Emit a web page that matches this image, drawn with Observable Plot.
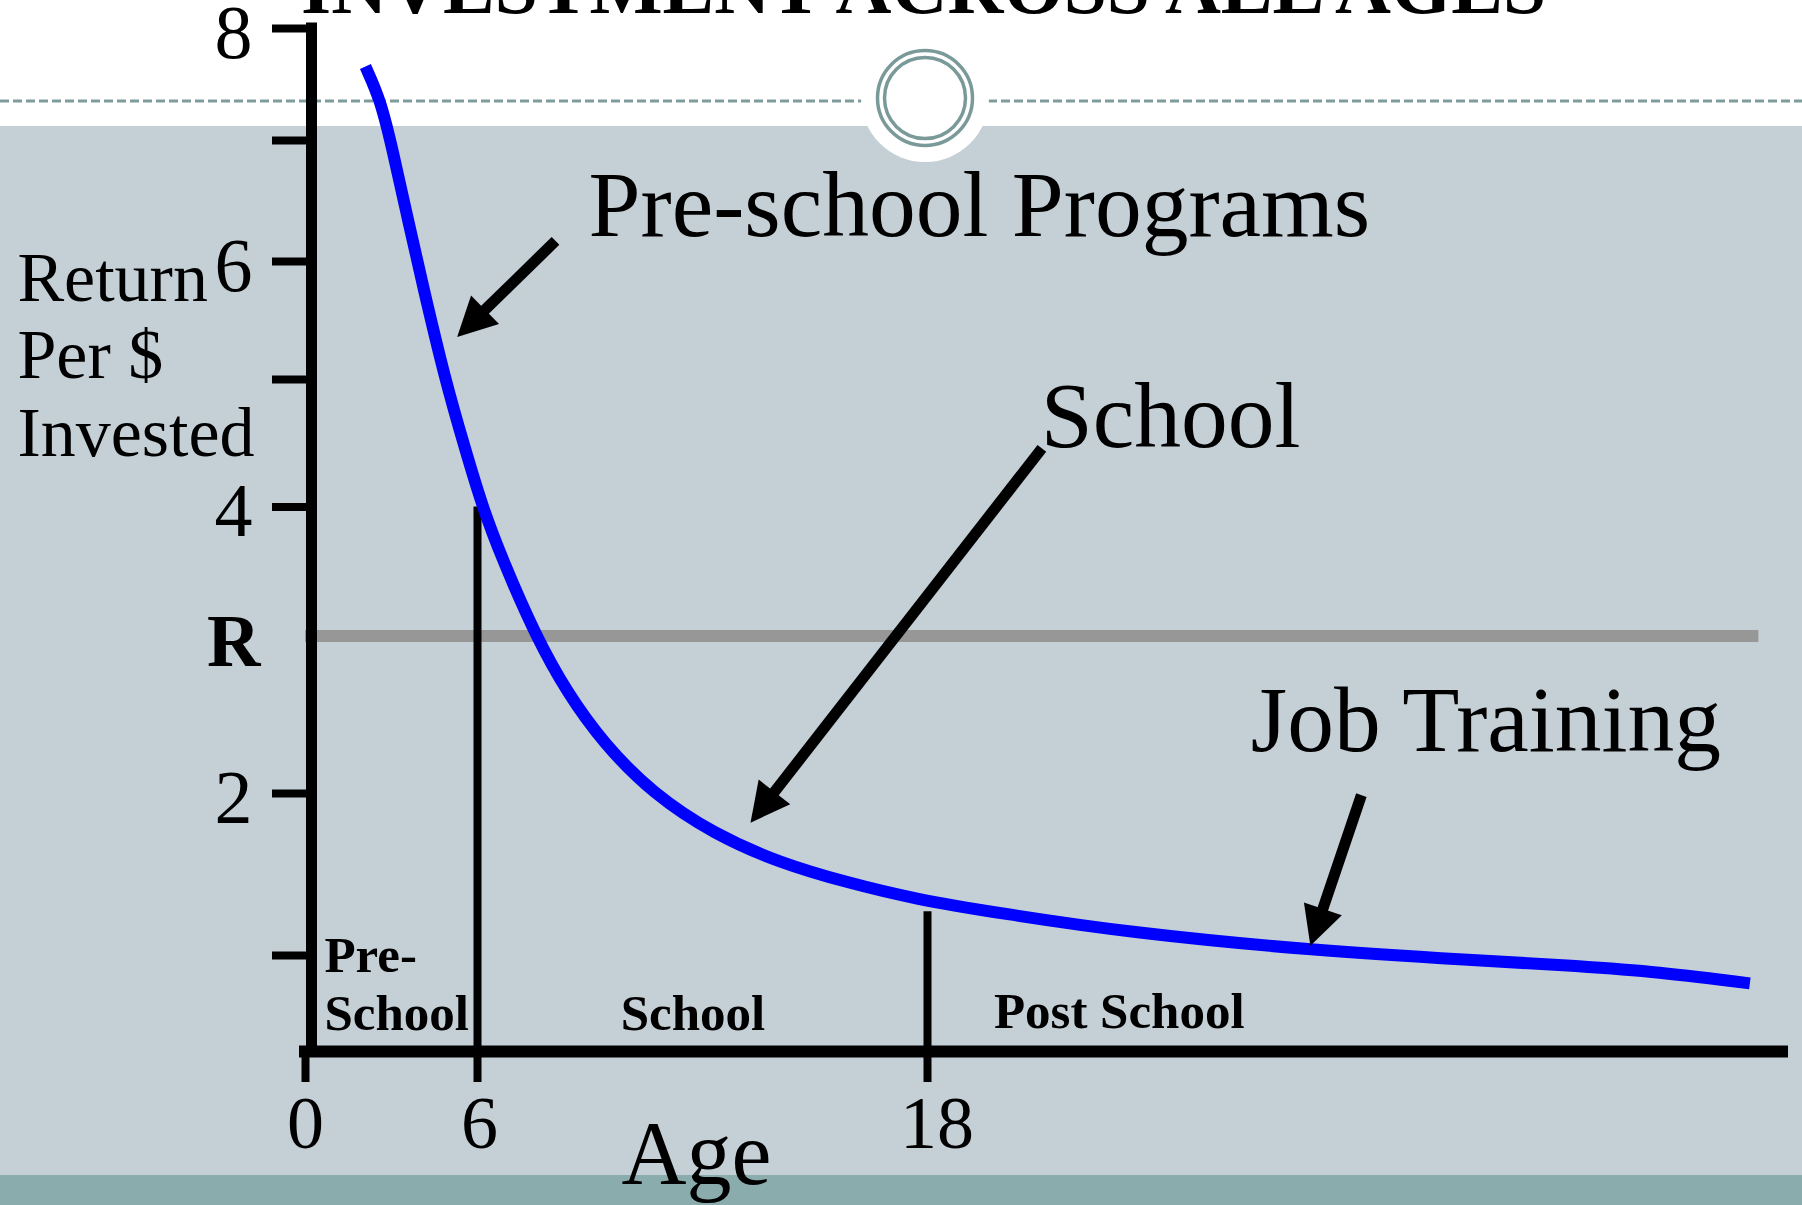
<!DOCTYPE html>
<html>
<head>
<meta charset="utf-8">
<script src="https://cdn.jsdelivr.net/npm/d3@7"></script>
<script src="https://cdn.jsdelivr.net/npm/@observablehq/plot@0.6"></script>
<style>
  html, body { margin: 0; padding: 0; background: #ffffff; }
  #wrap { position: relative; width: 1802px; height: 1205px; overflow: hidden; background: #c5d0d6; }
  #bg, #chart { position: absolute; left: 0; top: 0; }
  #chart svg { overflow: visible; }
</style>
</head>
<body>
<div id="wrap">
  <svg id="bg" width="1802" height="1205">
    <rect x="0" y="0" width="1802" height="126" fill="#ffffff"/>
    <line x1="0" x2="1802" y1="101" y2="101" stroke="#7f9c9c" stroke-width="3" stroke-dasharray="9 4"/>
    <circle cx="925" cy="98" r="64" fill="#ffffff"/>
    <circle cx="925" cy="98" r="47.5" fill="none" stroke="#7a9999" stroke-width="3.5"/>
    <circle cx="925" cy="98" r="40.5" fill="none" stroke="#7a9999" stroke-width="3.5"/>
    <rect x="0" y="1175" width="1802" height="30" fill="#8aacac"/>
    <text x="301" y="13" font-family="Liberation Serif" font-weight="bold" font-size="76" textLength="1245" lengthAdjust="spacingAndGlyphs">INVESTMENT ACROSS ALL AGES</text>
  </svg>
  <div id="chart"></div>
</div>
<script>
// ---- data ----
const ages    = [2.09, 2.62, 3.04, 3.56, 4.08, 4.88, 5.55, 6.13, 6.67, 7.55, 8.40, 9.36, 10.67, 12.30, 14.08, 15.87, 17.63, 19.95, 23.42, 28.33, 32.62, 34.94, 37.24, 39.93];
const returns = [7.66, 7.36, 6.92, 6.36, 5.81, 4.99, 4.47, 4.00, 3.63, 3.10, 2.70, 2.35, 2.00, 1.75, 1.57, 1.45, 1.35, 1.26, 1.14, 1.03, 0.95, 0.90, 0.84, 0.71];

const R = 3.1;                 // opportunity cost of funds
const rLineEnd = 40.17;

const yTickValues  = [1, 2, 4, 5, 6, 7, 8];
const yLabelValues = [8, 6, 4, 2];
const xTickValues  = [0, 6, 18];
const xTickLabelX  = [0, 6.05, 18.25];
const xAxisEnd = 40.8;

const stageBoundaries = [6, 18];
const stageTops       = [4.0, 1.27];
const stageNames  = ["Pre-\nSchool", "School", "Post School"];
const stageLabelX = [0.66, 9.82, 19.77];
const stageLabelY = [0.22, 0.22, 0.24];

const programNames  = ["Pre-school Programs", "School", "Job Training"];
const programLabelX = [8.96, 21.02, 26.62];
const programLabelY = [6.21, 4.47, 2.30];
const arrowX1 = [8.08, 21.05, 29.57];
const arrowY1 = [6.17, 4.46, 1.99];
const arrowX2 = [5.29, 13.28, 28.21];
const arrowY2 = [5.36, 1.82, 1.06];

const yAxisTitle = "Return\nPer $\nInvested";
const yAxisTitleX = -10.05, yAxisTitleY = 4.40;
const yLabelX = -1.85, rLabelX = -1.57;
const xLabelY = -1.01;
const xAxisTitle = "Age";
const xAxisTitleX = 11.84, xAxisTitleY = -1.375;

// ---- hand-drawn (piecewise) axes: warp data before the linear scales ----
const xDomain = [0, 6, 41];
const xRange  = [305, 477, 1789.5];
const yDomain = [0, 1, 2, 4, 5, 6, 7, 8];
const yRange  = [1051, 955, 793, 506.5, 379, 261, 140, 28];
const xs = d3.scaleLinear().domain(xDomain).range(xRange);
const ys = d3.scaleLinear().domain(yDomain).range(yRange);
const xEnds = [xRange[0], xRange[xRange.length - 1]];
const yEnds = [yRange[0], yRange[yRange.length - 1]];

const curve = ages.map((a, i) => ({age: a, ret: returns[i]}));
const stages = stageBoundaries.map((b, i) => ({age: b, top: stageTops[i]}));
const stageLabels = stageNames.map((n, i) => ({name: n, x: stageLabelX[i], y: stageLabelY[i]}));
const programLabels = programNames.map((n, i) => ({name: n, x: programLabelX[i], y: programLabelY[i]}));
const xTickLabels = xTickValues.map((v, i) => ({v, x: xTickLabelX[i]}));

const arrows = programNames.map((n, i) => {
  const dx = xs(arrowX2[i]) - xs(arrowX1[i]);
  const dy = ys(arrowY2[i]) - ys(arrowY1[i]);
  return {x1: arrowX1[i], y1: arrowY1[i], x2: arrowX2[i], y2: arrowY2[i],
          angle: Math.atan2(dx, -dy) * 180 / Math.PI};
});

const headSymbol = {
  draw(ctx) { ctx.moveTo(0, 0); ctx.lineTo(-20, 39); ctx.lineTo(20, 39); ctx.closePath(); }
};

const font = "Liberation Serif";

const plot = Plot.plot({
  width: 1802,
  height: 1205,
  marginLeft: 311,
  marginBottom: 154,
  marginTop: 0,
  marginRight: 0,
  style: {background: "transparent", fontFamily: font, color: "#000", overflow: "visible"},
  x: {transform: xs, domain: xEnds, range: xEnds, label: null},
  y: {transform: ys, domain: yEnds, range: yEnds, label: null},
  marks: [
    Plot.ruleY([R], {x1: 0, x2: rLineEnd, stroke: "#979797", strokeWidth: 12}),
    Plot.ruleX(stages, {x: "age", y1: 0, y2: "top", stroke: "#000", strokeWidth: 8}),
    Plot.axisX(xTickValues, {anchor: "bottom", tickSize: 31, strokeWidth: 8, tickFormat: () => "", label: null}),
    Plot.axisY(yTickValues, {anchor: "left", tickSize: 39, strokeWidth: 8, tickFormat: () => "", label: null}),
    Plot.line(curve, {x: "age", y: "ret", stroke: "#0000ff", strokeWidth: 12, curve: "basis", strokeLinecap: "butt"}),
    Plot.ruleX([0], {y1: 0, y2: 8, dx: 6, stroke: "#000", strokeWidth: 11, strokeLinecap: "square"}),
    Plot.ruleY([0], {x1: 0, x2: xAxisEnd, stroke: "#000", strokeWidth: 12, strokeLinecap: "square"}),
    Plot.arrow(arrows, {x1: "x1", y1: "y1", x2: "x2", y2: "y2", headLength: 0, insetEnd: 25,
                        stroke: "#000", strokeWidth: 11, strokeLinecap: "butt"}),
    Plot.dot(arrows, {x: "x2", y: "y2", symbol: headSymbol, r: 10, rotate: "angle", fill: "#000", stroke: "none"}),
    Plot.text(programLabels, {x: "x", y: "y", text: "name", textAnchor: "start", lineAnchor: "bottom",
                              fontFamily: font, fontSize: 93.5, fill: "#000"}),
    Plot.text(stageLabels, {x: "x", y: "y", text: "name", textAnchor: "start", lineAnchor: "bottom",
                            fontFamily: font, fontWeight: "bold", fontSize: 51, lineHeight: 1.14, fill: "#000"}),
    Plot.text([yAxisTitle], {x: yAxisTitleX, y: yAxisTitleY, text: d => d, textAnchor: "start", lineAnchor: "bottom",
                             fontFamily: font, fontSize: 70, lineHeight: 1.11, fill: "#000"}),
    Plot.text(yLabelValues, {x: yLabelX, y: d => d, text: d => String(d), textAnchor: "end", lineAnchor: "middle", dy: 5,
                             fontFamily: font, fontSize: 76, fill: "#000"}),
    Plot.text(["R"], {x: rLabelX, y: R, text: d => d, textAnchor: "end", lineAnchor: "middle", dy: 6,
                      fontFamily: font, fontWeight: "bold", fontSize: 74, fill: "#000"}),
    Plot.text(xTickLabels, {x: "x", y: xLabelY, text: d => String(d.v), textAnchor: "middle", lineAnchor: "bottom",
                            fontFamily: font, fontSize: 74, fill: "#000"}),
    Plot.text([xAxisTitle], {x: xAxisTitleX, y: xAxisTitleY, text: d => d, textAnchor: "middle", lineAnchor: "bottom",
                             fontFamily: font, fontSize: 90, fill: "#000"})
  ]
});
document.getElementById("chart").appendChild(plot);
</script>
</body>
</html>
